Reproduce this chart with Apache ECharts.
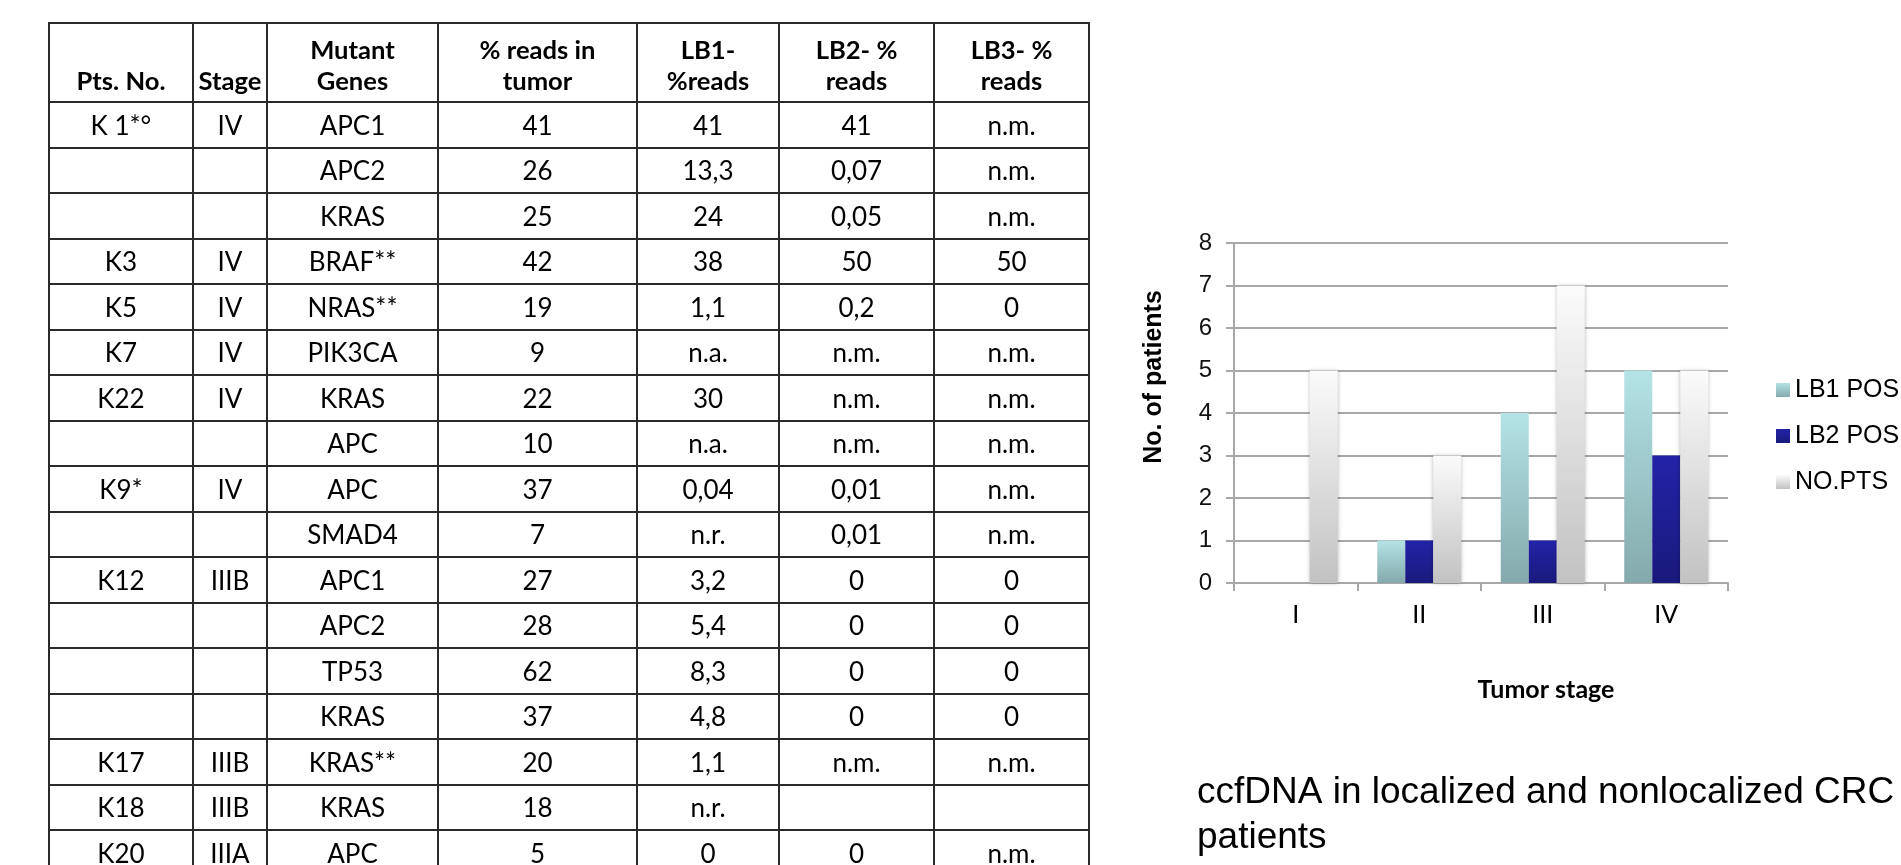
<!DOCTYPE html>
<html>
<head>
<meta charset="utf-8">
<script src="https://cdn.jsdelivr.net/npm/echarts@6/dist/echarts.min.js"></script>
<style>
  html, body { margin: 0; padding: 0; background: #fff; width: 1901px; height: 865px; overflow: hidden; }
  #chart { position: absolute; left: 0; top: 0; width: 1901px; height: 865px; }
  #tableWrap { position: absolute; left: 48px; top: 22px; z-index: 2; }
  table.mut { border-collapse: collapse; table-layout: fixed; font-family: Lato, "Open Sans", sans-serif; font-size: 26px; color: #000; }
  table.mut td, table.mut th { border: 2px solid #2a2a2a; text-align: center; padding: 0; overflow: hidden; white-space: nowrap; }
  table.mut th { font-weight: bold; vertical-align: bottom; line-height: 31px; height: 72px; padding-bottom: 5px; font-size: 25.6px; }
  table.mut td { height: 43.5px; line-height: 26px; vertical-align: middle; }
</style>
</head>
<body>
<div id="chart"></div>
<div id="tableWrap"></div>
<script>
// ---- Mutation table ----
const tableHeaders = ['Pts. No.', 'Stage', 'Mutant\nGenes', '% reads in\ntumor', 'LB1-\n%reads', 'LB2- %\nreads', 'LB3- %\nreads'];
const columnWidths = [144, 74, 171, 199, 142, 155, 155];
const patientIds = ['K 1*°', '', '', 'K3', 'K5', 'K7', 'K22', '', 'K9*', '', 'K12', '', '', '', 'K17', 'K18', 'K20'];
const patientStages = ['IV', '', '', 'IV', 'IV', 'IV', 'IV', '', 'IV', '', 'IIIB', '', '', '', 'IIIB', 'IIIB', 'IIIA'];
const mutantGenes = ['APC1', 'APC2', 'KRAS', 'BRAF**', 'NRAS**', 'PIK3CA', 'KRAS', 'APC', 'APC', 'SMAD4', 'APC1', 'APC2', 'TP53', 'KRAS', 'KRAS**', 'KRAS', 'APC'];
const readsTumor = ['41', '26', '25', '42', '19', '9', '22', '10', '37', '7', '27', '28', '62', '37', '20', '18', '5'];
const lb1Reads = ['41', '13,3', '24', '38', '1,1', 'n.a.', '30', 'n.a.', '0,04', 'n.r.', '3,2', '5,4', '8,3', '4,8', '1,1', 'n.r.', '0'];
const lb2Reads = ['41', '0,07', '0,05', '50', '0,2', 'n.m.', 'n.m.', 'n.m.', '0,01', '0,01', '0', '0', '0', '0', 'n.m.', '', '0'];
const lb3Reads = ['n.m.', 'n.m.', 'n.m.', '50', '0', 'n.m.', 'n.m.', 'n.m.', 'n.m.', 'n.m.', '0', '0', '0', '0', 'n.m.', '', 'n.m.'];

// ---- Bar chart: patients per tumour stage ----
const stages = ['I', 'II', 'III', 'IV'];
const seriesNames = ['LB1 POS', 'LB2 POS', 'NO.PTS'];
const lb1Pos = [0, 1, 4, 5];
const lb2Pos = [0, 1, 1, 3];
const noPts = [5, 3, 7, 5];
const yAxisTitle = 'No. of patients';
const xAxisTitle = 'Tumor stage';
const captionLines = ['ccfDNA in localized and nonlocalized CRC', 'patients'];

function buildTable() {
  const esc = s => s.replace(/&/g, '&amp;').replace(/</g, '&lt;');
  const columns = [patientIds, patientStages, mutantGenes, readsTumor, lb1Reads, lb2Reads, lb3Reads];
  let html = '<table class="mut"><colgroup>';
  columnWidths.forEach(w => { html += '<col style="width:' + w + 'px">'; });
  html += '</colgroup><tr>';
  tableHeaders.forEach(h => { html += '<th>' + esc(h).replace('\n', '<br>') + '</th>'; });
  html += '</tr>';
  for (let r = 0; r < mutantGenes.length; r++) {
    html += '<tr>';
    columns.forEach(col => { html += '<td>' + esc(col[r]) + '</td>'; });
    html += '</tr>';
  }
  html += '</table>';
  document.getElementById('tableWrap').innerHTML = html;
}
buildTable();

function vGrad(top, bottom) {
  return new echarts.graphic.LinearGradient(0, 0, 0, 1, [
    { offset: 0, color: top },
    { offset: 1, color: bottom }
  ]);
}

const chart = echarts.init(document.getElementById('chart'), null, { renderer: 'canvas' });
const axisGray = '#a8a8a8';

chart.setOption({
  animation: false,
  backgroundColor: '#ffffff',
  title: {
    text: captionLines.join('\n'),
    left: 1197,
    top: 770,
    padding: 0,
    textStyle: {
      fontFamily: '"Liberation Sans", Arial, sans-serif',
      fontSize: 37,
      fontWeight: 'normal',
      lineHeight: 45,
      color: '#000'
    }
  },
  legend: {
    orient: 'vertical',
    left: 1771,
    top: 372,
    itemWidth: 14,
    itemHeight: 14,
    itemGap: 20,
    icon: 'rect',
    data: seriesNames,
    textStyle: {
      fontFamily: '"Liberation Sans", Arial, sans-serif',
      fontSize: 25,
      lineHeight: 26,
      color: '#000'
    }
  },
  grid: {
    left: 1234,
    right: 173,
    top: 243,
    bottom: 282,
    containLabel: false
  },
  xAxis: {
    type: 'category',
    data: stages,
    boundaryGap: true,
    axisLine: { show: true, lineStyle: { color: axisGray, width: 2 } },
    axisTick: { show: true, alignWithLabel: false, length: 8, lineStyle: { color: axisGray, width: 2 } },
    axisLabel: {
      margin: 19,
      fontFamily: 'Lato, "Open Sans", sans-serif',
      fontSize: 25,
      color: '#000'
    },
    splitLine: { show: false }
  },
  yAxis: {
    type: 'value',
    min: 0,
    max: 8,
    interval: 1,
    axisLine: { show: true, lineStyle: { color: axisGray, width: 2 } },
    axisTick: { show: true, inside: false, length: 8, lineStyle: { color: axisGray, width: 2 } },
    axisLabel: {
      margin: 22,
      fontFamily: '"Liberation Sans", Arial, sans-serif',
      fontSize: 24,
      color: '#111'
    },
    splitLine: { show: true, lineStyle: { color: axisGray, width: 2 } }
  },
  graphic: [
    {
      type: 'text',
      x: 1154,
      y: 377,
      rotation: Math.PI / 2,
      style: {
        text: yAxisTitle,
        fontFamily: '"Liberation Sans", Arial, sans-serif',
        fontSize: 25,
        fontWeight: 'bold',
        fill: '#000',
        align: 'center',
        verticalAlign: 'middle'
      }
    },
    {
      type: 'text',
      x: 1546,
      y: 690,
      style: {
        text: xAxisTitle,
        fontFamily: 'Lato, "Open Sans", sans-serif',
        fontSize: 25,
        fontWeight: 'bold',
        fill: '#000',
        align: 'center',
        verticalAlign: 'middle'
      }
    }
  ],
  series: [
    {
      name: seriesNames[0],
      type: 'bar',
      data: lb1Pos,
      barWidth: 28,
      barGap: '0%',
      itemStyle: { color: vGrad('#b4e3e6', '#84a9ac') }
    },
    {
      name: seriesNames[1],
      type: 'bar',
      data: lb2Pos,
      barWidth: 28,
      barGap: '0%',
      itemStyle: { color: vGrad('#2323a8', '#19197c') }
    },
    {
      name: seriesNames[2],
      type: 'bar',
      data: noPts,
      barWidth: 28,
      barGap: '0%',
      itemStyle: {
        color: vGrad('#fbfbfb', '#c2c2c2'),
        shadowColor: 'rgba(0,0,0,0.28)',
        shadowBlur: 4
      }
    }
  ]
});
</script>
</body>
</html>
